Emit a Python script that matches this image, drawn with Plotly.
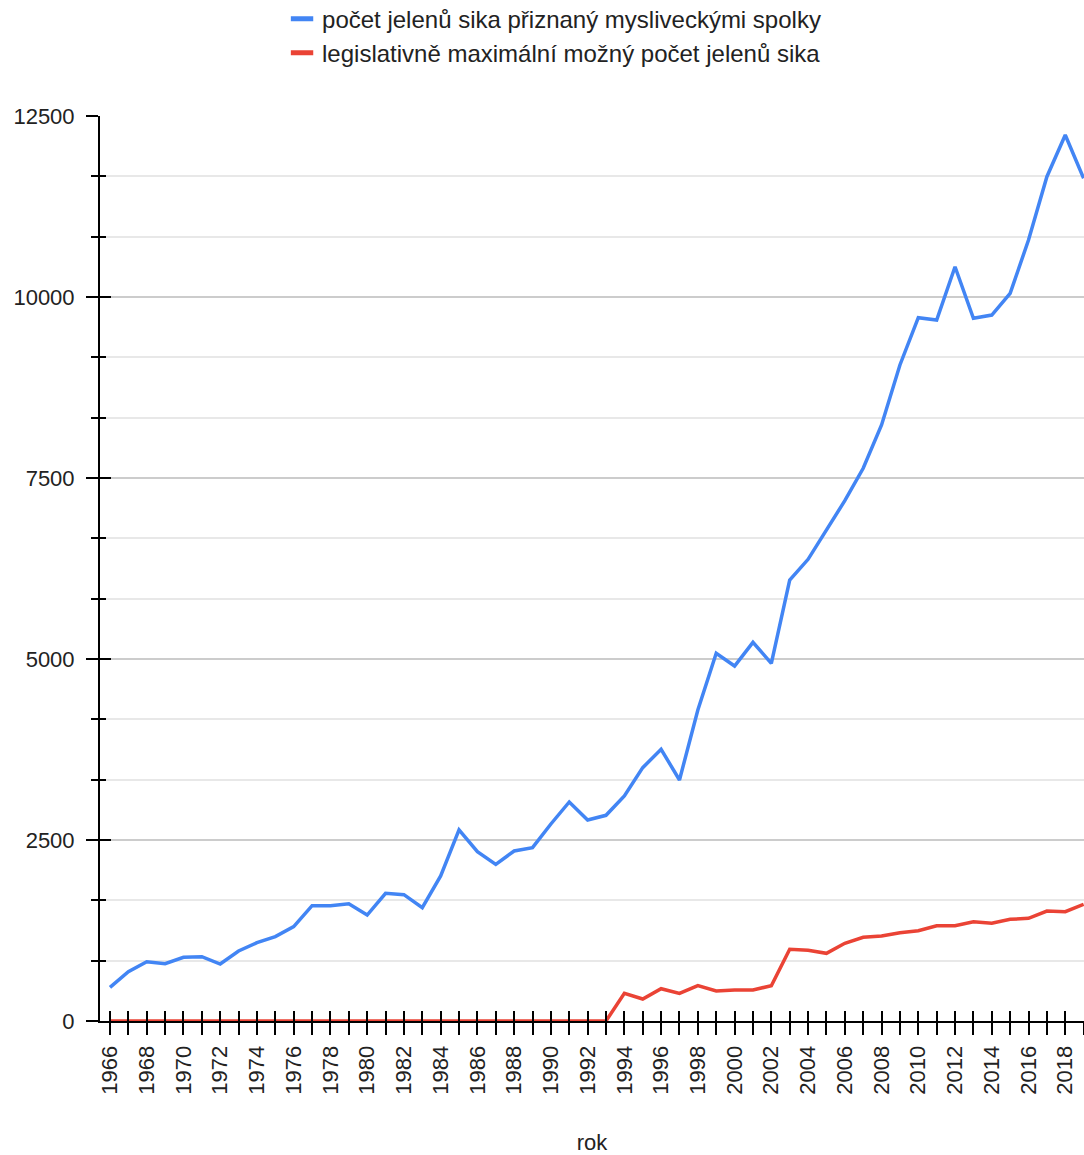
import plotly.graph_objects as go

years = list(range(1966, 2020))
priznany = [465, 681, 819, 792, 880, 888, 787, 967, 1082, 1165,
            1303, 1593, 1593, 1620, 1464, 1764, 1745, 1565, 2003, 2640,
            2338, 2164, 2348, 2394, 2721, 3025, 2776, 2841, 3108, 3499,
            3753, 3329, 4296, 5079, 4903, 5230, 4940, 6091, 6377, 6782,
            7187, 7634, 8232, 9061, 9714, 9682, 10418, 9706, 9751, 10051,
            10787, 11662, 12238, 11640]
maximalni = [0] * 28 + [382, 304, 446, 382, 488, 414, 428, 428, 488, 990,
                        976, 935, 1073, 1156, 1174, 1220, 1247, 1316, 1316, 1372,
                        1349, 1405, 1418, 1519, 1510, 1612]
names = ["počet jelenů sika přiznaný mysliveckými spolky",
         "legislativně maximální možný počet jelenů sika"]
colors = ["#4285F4", "#EA4335"]

FONT = "Arial, 'Liberation Sans', sans-serif"

fig = go.Figure()
# empty trace on the overlay axes so their inside tick marks are drawn
fig.add_trace(go.Scatter(x=[None], y=[None], xaxis="x2", yaxis="y2",
                         mode="lines", showlegend=False, hoverinfo="skip"))
for vals, name, col in zip([priznany, maximalni], names, colors):
    fig.add_trace(go.Scatter(x=years, y=vals, mode="lines", name=name,
                             line=dict(color=col, width=3.5), showlegend=False))
for name, col in zip(names, colors):
    fig.add_trace(go.Scatter(x=[None], y=[None], mode="markers", name=name,
                             marker=dict(symbol="line-ew", size=20,
                                         line=dict(color=col, width=8))))

xr = [1965.456, 2019.02]
yr = [0, 12500]
fig.update_layout(
    width=1084, height=1155,
    margin=dict(l=100, r=0, t=116, b=134, autoexpand=False),
    paper_bgcolor="white", plot_bgcolor="white",
    font=dict(family=FONT, size=22, color="#222222"),
    legend=dict(orientation="v", x=0.185, xanchor="left", y=1.132, yanchor="top",
                font=dict(size=24, color="#222222"), itemwidth=30,
                tracegroupgap=0),
    xaxis=dict(range=xr, tick0=1966, dtick=2, tickangle=-90,
               ticks="outside", ticklen=12, tickwidth=2, tickcolor="black",
               minor=dict(dtick=1, ticks="outside", ticklen=12, tickwidth=2,
                          tickcolor="black", showgrid=False),
               showline=True, linecolor="black", linewidth=2,
               showgrid=False, zeroline=False, layer="below traces",
               automargin=False,
               title=dict(text="rok", font=dict(size=22), standoff=50),
               tickfont=dict(size=22), ticklabelstandoff=2),
    xaxis2=dict(range=xr, overlaying="x", anchor="y", side="bottom",
                tick0=1966, dtick=1, ticks="inside", ticklen=10, tickwidth=2,
                tickcolor="black", showticklabels=False, showgrid=False,
                zeroline=False, showline=False),
    yaxis=dict(range=yr, tick0=0, dtick=2500, tickformat="d",
               ticks="outside", ticklen=12, tickwidth=2, tickcolor="black",
               showline=True, linecolor="black", linewidth=2,
               gridcolor="#cccccc", gridwidth=1.5, zeroline=False,
               automargin=False,
               minor=dict(dtick=2500 / 3, ticks="outside", ticklen=7,
                          tickwidth=2, tickcolor="black", showgrid=True,
                          gridcolor="#e8e8e8", gridwidth=1.5),
               tickfont=dict(size=22), ticklabelstandoff=7),
    yaxis2=dict(range=yr, overlaying="y", anchor="x", side="left",
                tick0=0, dtick=2500, ticks="inside", ticklen=11, tickwidth=2,
                tickcolor="black", showticklabels=False, showgrid=False,
                zeroline=False, showline=False,
                minor=dict(dtick=2500 / 3, ticks="inside", ticklen=6,
                           tickwidth=2, tickcolor="black", showgrid=False)),
)
fig.write_html("out.html",
               config={"displayModeBar": False},
               post_script="document.body.style.margin='0';"
                           "document.body.style.overflow='hidden';")
